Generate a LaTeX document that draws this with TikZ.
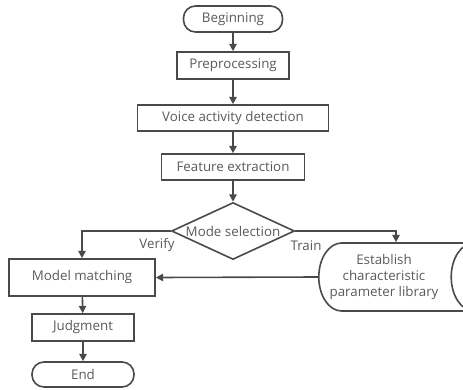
\documentclass[tikz,border=0pt]{standalone}
\usepackage{fontspec}
\setmainfont{Open Sans}
\usepackage{tikz}
\usetikzlibrary{arrows.meta,shapes.geometric}
\usepackage{xcolor}
\definecolor{linegray}{HTML}{4A4A4A}
\definecolor{textgray}{HTML}{5A5A5A}
\newcommand{\libtxt}{\begin{tabular}{@{}c@{}}Establish\\characteristic\\parameter library\end{tabular}}

\begin{document}
\begin{tikzpicture}[x=0.75pt,y=-0.75pt,>={Triangle[length=5.5pt,width=5.5pt]},
  every node/.style={text=textgray,font=\fontsize{10}{12}\selectfont},
  box/.style={draw=linegray,line width=1.2pt,minimum height=19.5pt,inner sep=0pt},
  term/.style={box,rounded corners=9pt},
  flow/.style={->,draw=linegray,line width=1.2pt}]
\useasboundingbox (0,0) rectangle (463,389);
%%%STEPS
\node[term,minimum width=74.25pt] (begin) at (233,19) {Beginning};
\node[box,minimum width=84pt,minimum height=20.25pt] (prep) at (233,65.5) {Preprocessing};
\node[box,minimum width=143.25pt] (vad) at (233,118) {Voice activity detection};
\node[box,minimum width=107.25pt] (feat) at (233,167) {Feature extraction};
\node[diamond,draw=linegray,line width=1.2pt,inner sep=0pt,aspect=2.16,
  minimum width=92.25pt,minimum height=42.75pt] (mode) at (233,231) {Mode selection};
\node[box,minimum width=109.5pt,minimum height=27.75pt] (match) at (82,277.5) {Model matching};
\node[box,minimum width=76.5pt,minimum height=20.25pt] (judge) at (83,327.5) {Judgment};
\node[term,minimum width=76.5pt,minimum height=18.75pt] (end) at (83,374.5) {End};
% shape sized by hidden text, text set left of the cap
\node[cylinder,draw=linegray,line width=1.2pt,inner sep=0pt,aspect=0.95,
  minimum height=123pt,minimum width=51pt] (lib) at (396,277) {\phantom{\libtxt}};
\node[inner sep=0pt] (libtext) at (384,277) {\libtxt};
%%%LABELS
\node (verify) at (157,245) {Verify};
\node (train) at (306,246) {Train};
%%%ARROWS
\draw[flow] (begin) -- (prep);
\draw[flow] (prep) -- (vad);
\draw[flow] (vad) -- (feat);
\draw[flow] (feat) -- (mode);
\draw[flow] (mode.west) -| (match.north);
\draw[flow] (mode.east) -| (lib.north);
\draw[flow] (lib.west) -- (match.east);
\draw[flow] (match) -- (judge);
\draw[flow] (judge) -- (end);
\end{tikzpicture}
\end{document}
